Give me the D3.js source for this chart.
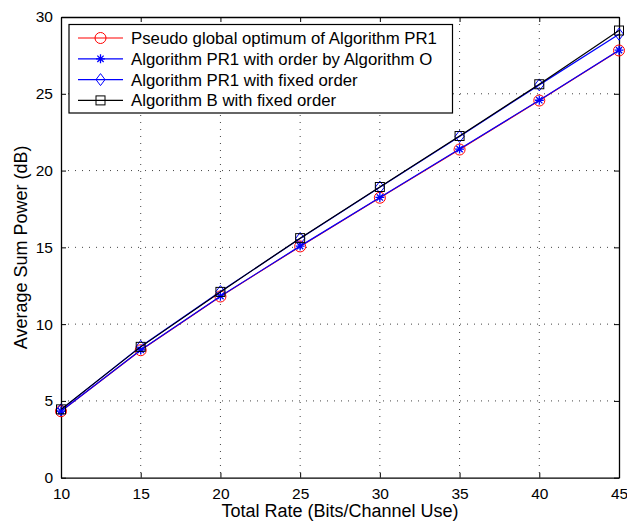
<!DOCTYPE html>
<html>
<head>
<meta charset="utf-8">
<script src="https://cdn.jsdelivr.net/npm/d3@7"></script>
<style>
  body { margin: 0; background: #fff; }
  text { font-family: "Liberation Sans", Arial, sans-serif; }
</style>
</head>
<body>
<div id="chart"></div>
<script>
var rates = [10, 15, 20, 25, 30, 35, 40, 45];
var pseudoGlobal = [4.33, 8.3, 11.8, 15.06, 18.23, 21.37, 24.56, 27.82];
var pr1OrderO = [4.33, 8.32, 11.82, 15.08, 18.25, 21.4, 24.58, 27.84];
var pr1Fixed = [4.42, 8.55, 12.12, 15.58, 18.92, 22.22, 25.58, 28.88];
var algBFixed = [4.45, 8.52, 12.1, 15.6, 18.93, 22.25, 25.62, 29.12];
var xTicks = [10, 15, 20, 25, 30, 35, 40, 45];
var yTicks = [0, 5, 10, 15, 20, 25, 30];
var seriesNames = ["Pseudo global optimum of Algorithm PR1", "Algorithm PR1 with order by Algorithm O",
  "Algorithm PR1 with fixed order", "Algorithm B with fixed order"];

var w = 627, h = 523;
var pLeft = 61, pRight = 619, pTop = 17, pBottom = 477.7;

var svg = d3.select("#chart")
    .append("svg")
    .attr("width", w)
    .attr("height", h);

var x = d3.scaleLinear().domain([10, 45]).range([pLeft, pRight]);
var y = d3.scaleLinear().domain([0, 30]).range([pBottom, pTop]);

// dotted grid
svg.selectAll(".gx")
    .data(xTicks.slice(1, -1))
    .enter()
    .append("line")
    .attr("x1", function(d) { return x(d); })
    .attr("x2", function(d) { return x(d); })
    .attr("y1", pTop)
    .attr("y2", pBottom)
    .style("stroke", "#444")
    .style("stroke-width", 1)
    .style("stroke-dasharray", "1,6");

svg.selectAll(".gy")
    .data(yTicks.slice(1, -1))
    .enter()
    .append("line")
    .attr("x1", pLeft)
    .attr("x2", pRight)
    .attr("y1", function(d) { return y(d); })
    .attr("y2", function(d) { return y(d); })
    .style("stroke", "#444")
    .style("stroke-width", 1)
    .style("stroke-dasharray", "1,6");

// axes with inward ticks
svg.append("g")
    .attr("transform", "translate(0," + pBottom + ")")
    .call(d3.axisBottom(x).tickValues(xTicks).tickSizeInner(-5).tickSizeOuter(0).tickPadding(10));
svg.append("g")
    .attr("transform", "translate(" + pLeft + ",0)")
    .call(d3.axisLeft(y).tickValues(yTicks).tickSizeInner(-5).tickSizeOuter(0).tickPadding(8));
svg.append("g")
    .attr("transform", "translate(0," + pTop + ")")
    .call(d3.axisTop(x).tickValues(xTicks).tickSizeInner(-5).tickSizeOuter(0).tickFormat(""));
svg.append("g")
    .attr("transform", "translate(" + pRight + ",0)")
    .call(d3.axisRight(y).tickValues(yTicks).tickSizeInner(-5).tickSizeOuter(0).tickFormat(""));

svg.selectAll(".domain").style("stroke", "#000").style("stroke-width", 1.3);
svg.selectAll(".tick line").style("stroke", "#000");
svg.selectAll(".tick text")
    .style("font-size", "15.5px")
    .style("fill", "#000")
    .style("font-family", "Liberation Sans, Arial, sans-serif");

svg.append("text")
    .attr("x", (pLeft + pRight) / 2)
    .attr("y", 517)
    .attr("text-anchor", "middle")
    .style("font-size", "18px")
    .text("Total Rate (Bits/Channel Use)");

svg.append("text")
    .attr("transform", "translate(27," + ((pTop + pBottom) / 2) + ") rotate(-90)")
    .attr("text-anchor", "middle")
    .style("font-size", "18px")
    .text("Average Sum Power (dB)");

// marker drawing
function drawMarker(g, type, color) {
  if (type == "circle") {
    g.append("circle").attr("r", 5.5).style("fill", "none").style("stroke", color).style("stroke-width", 1);
  } else if (type == "star") {
    var s = 4.5;
    g.append("path")
      .attr("d", "M" + (-s) + ",0L" + s + ",0M0," + (-s) + "L0," + s +
        "M" + (-s * 0.7) + "," + (-s * 0.7) + "L" + (s * 0.7) + "," + (s * 0.7) +
        "M" + (-s * 0.7) + "," + (s * 0.7) + "L" + (s * 0.7) + "," + (-s * 0.7))
      .style("fill", "none").style("stroke", color).style("stroke-width", 1.3);
  } else if (type == "diamond") {
    var d = 6;
    g.append("path")
      .attr("d", "M0," + (-d) + "L" + d * 0.75 + ",0L0," + d + "L" + (-d * 0.75) + ",0Z")
      .style("fill", "none").style("stroke", color).style("stroke-width", 1);
  } else if (type == "square") {
    g.append("rect").attr("x", -4.5).attr("y", -4.5).attr("width", 9).attr("height", 9)
      .style("fill", "none").style("stroke", color).style("stroke-width", 1);
  }
}

var series = [
  { values: pseudoGlobal, color: "#ff0000", marker: "circle" },
  { values: pr1OrderO, color: "#0000ff", marker: "star" },
  { values: pr1Fixed, color: "#0000ff", marker: "diamond" },
  { values: algBFixed, color: "#000000", marker: "square" }
];

var line = d3.line()
    .x(function(d, i) { return x(rates[i]); })
    .y(function(d) { return y(d); });

series.forEach(function(s) {
  svg.append("path")
    .datum(s.values)
    .attr("d", line)
    .style("fill", "none")
    .style("stroke", s.color)
    .style("stroke-width", 1.2);
  s.values.forEach(function(v, i) {
    var g = svg.append("g").attr("transform", "translate(" + x(rates[i]) + "," + y(v) + ")");
    drawMarker(g, s.marker, s.color);
  });
});

// legend
var legend = svg.append("g");
legend.append("rect")
    .attr("x", 69)
    .attr("y", 24.5)
    .attr("width", 383.5)
    .attr("height", 88.5)
    .style("fill", "#fff")
    .style("stroke", "#000")
    .style("stroke-width", 1.2);

series.forEach(function(s, i) {
  var ly = 38 + i * 20.8;
  legend.append("line")
    .attr("x1", 78).attr("x2", 123)
    .attr("y1", ly).attr("y2", ly)
    .style("stroke", s.color)
    .style("stroke-width", 1.2);
  var g = legend.append("g").attr("transform", "translate(100.5," + ly + ")");
  drawMarker(g, s.marker, s.color);
  legend.append("text")
    .attr("x", 131)
    .attr("y", ly + 6)
    .style("font-size", "16.8px")
    .text(seriesNames[i]);
});
</script>
</body>
</html>
